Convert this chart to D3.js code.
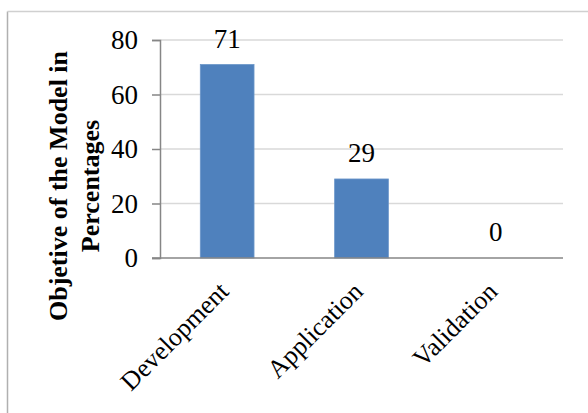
<!DOCTYPE html>
<html>
<head>
<meta charset="utf-8">
<script src="https://cdn.jsdelivr.net/npm/d3@7"></script>
<style>
  html, body { margin: 0; padding: 0; background: #fff; }
  svg { display: block; }
  text { font-family: "Liberation Serif", "Times New Roman", serif; fill: #000; }
</style>
</head>
<body>
<svg id="chart" width="588" height="413"></svg>
<script>
// Share of model objectives
const categories = ["Development", "Application", "Validation"];
const values = [71, 29, 0];
const yTicks = [0, 20, 40, 60, 80];
const yTitleLines = ["Objetive of the Model in", "Percentages"];

const W = 588, H = 413;
const margin = { left: 160, right: 25, top: 40, bottom: 155 };

const svg = d3.select("#chart");

// outer frame (left and top edges)
svg.append("line").attr("x1", 7.5).attr("x2", 7.5).attr("y1", 11.5).attr("y2", H)
  .attr("stroke", "#b0b0b0").attr("stroke-width", 1.5);
svg.append("line").attr("x1", 7.5).attr("x2", W).attr("y1", 11.5).attr("y2", 11.5)
  .attr("stroke", "#d0d0d0").attr("stroke-width", 1.5);

const x = d3.scaleBand()
  .domain(categories)
  .range([margin.left, W - margin.right])
  .paddingInner(0.6)
  .paddingOuter(0.3);

const y = d3.scaleLinear()
  .domain([0, 80])
  .range([H - margin.bottom, margin.top]);

// gridlines
svg.append("g")
  .selectAll("line")
  .data(yTicks.filter(d => d > 0))
  .join("line")
  .attr("x1", margin.left).attr("x2", W - margin.right)
  .attr("y1", d => y(d)).attr("y2", d => y(d))
  .attr("stroke", "#d9d9d9").attr("stroke-width", 1.5);

// bars
svg.append("g")
  .selectAll("rect")
  .data(values)
  .join("rect")
  .attr("x", (d, i) => x(categories[i]))
  .attr("width", x.bandwidth())
  .attr("y", d => y(d))
  .attr("height", d => y(0) - y(d))
  .attr("fill", "#4f81bd")
  .attr("stroke", "#6b96c9")
  .attr("stroke-width", 0.8);

// y axis
const yAxis = d3.axisLeft(y).tickValues(yTicks).tickSize(8).tickPadding(14);
const gy = svg.append("g").attr("transform", `translate(${margin.left},0)`).call(yAxis)
  .attr("font-family", "Liberation Serif, serif").attr("font-size", 27);
gy.select(".domain").attr("stroke", "#868686").attr("stroke-width", 1.5);
gy.selectAll(".tick line").attr("stroke", "#868686").attr("stroke-width", 1.5);
gy.selectAll(".tick text").attr("fill", "#000");

// x axis
const xAxis = d3.axisBottom(x).tickSize(0).tickFormat(() => "");
const gx = svg.append("g").attr("transform", `translate(0,${y(0)})`).call(xAxis);
gx.select(".domain").attr("stroke", "#868686").attr("stroke-width", 1.5)
  .attr("d", `M${margin.left - 8},0H${W - margin.right}`);

// rotated category labels
svg.append("g")
  .selectAll("text")
  .data(categories)
  .join("text")
  .attr("transform", d => `translate(${x(d) + x.bandwidth() / 2 + 3},${y(0) + 35}) rotate(-45)`)
  .attr("text-anchor", "end")
  .attr("font-size", 26)
  .text(d => d);

// value labels
svg.append("g")
  .selectAll("text")
  .data(values)
  .join("text")
  .attr("x", (d, i) => x(categories[i]) + x.bandwidth() / 2)
  .attr("y", d => y(d) - 17)
  .attr("text-anchor", "middle")
  .attr("font-size", 27)
  .text(d => d);

// y axis title
const title = svg.append("text")
  .attr("transform", `translate(67,186) rotate(-90)`)
  .attr("text-anchor", "middle")
  .attr("font-size", 26)
  .attr("font-weight", "bold");
title.selectAll("tspan")
  .data(yTitleLines)
  .join("tspan")
  .attr("x", 0)
  .attr("y", (d, i) => i * 32)
  .text(d => d);
</script>
</body>
</html>
